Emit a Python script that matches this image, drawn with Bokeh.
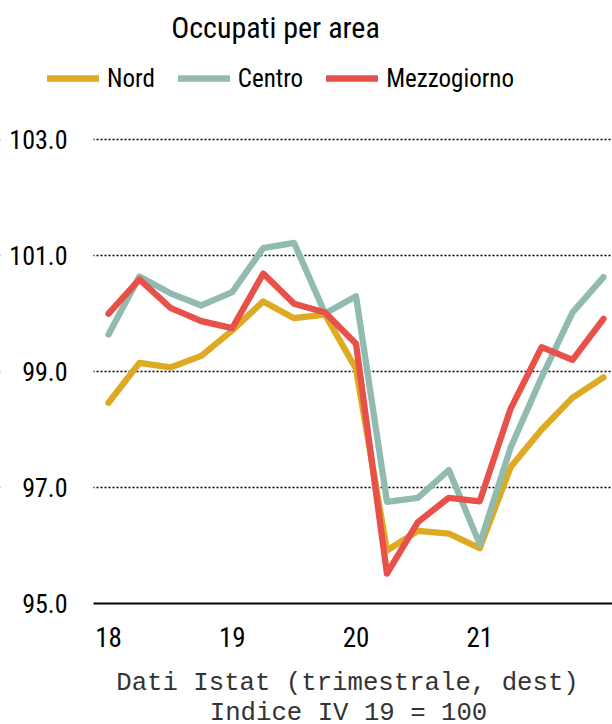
from bokeh.plotting import figure
from bokeh.models import (Range1d, FixedTicker, PrintfTickFormatter, Legend, LegendItem,
                          Label, ColumnDataSource, BoxAnnotation)
from bokeh.embed import file_html
from bokeh.resources import INLINE

quarters = ["2018Q1", "2018Q2", "2018Q3", "2018Q4", "2019Q1", "2019Q2", "2019Q3", "2019Q4",
            "2020Q1", "2020Q2", "2020Q3", "2020Q4", "2021Q1", "2021Q2", "2021Q3", "2021Q4",
            "2022Q1"]
nord = [98.46, 99.15, 99.07, 99.27, 99.71, 100.21, 99.92, 99.98, 99.05, 95.91, 96.25, 96.20,
        95.95, 97.35, 98.00, 98.55, 98.90]
centro = [99.64, 100.64, 100.35, 100.14, 100.37, 101.13, 101.22, 100.00, 100.30, 96.75, 96.82,
          97.30, 96.02, 97.69, 98.90, 100.02, 100.63]
mezzogiorno = [100.00, 100.59, 100.10, 99.87, 99.75, 100.69, 100.17, 100.02, 99.48, 95.51, 96.40,
               96.82, 96.76, 98.36, 99.42, 99.20, 99.91]
series_names = ["Nord", "Centro", "Mezzogiorno"]
series_colors = ["#DEAA24", "#91BBB0", "#E8504A"]
year_ticks = [0, 4, 8, 12]
year_labels = ["18", "19", "20", "21"]
y_ticks = [95, 97, 99, 101, 103]
grid_ticks = [97, 99, 101, 103]

FONT = "Roboto Condensed"
MONO = "Liberation Mono"

W, H = 612, 724
X_LEFT = -0.485   # left edge of plotting area (data units)
X_END = 16.291

idx = list(range(len(quarters)))

p = figure(width=W, height=H, output_backend="svg", toolbar_location=None,
           x_range=Range1d(-3.491, X_END), y_range=Range1d(92.906, 105.405),
           min_border=0)
p.outline_line_color = None
p.background_fill_color = "white"

# grid (dotted), limited to the plotting area by a white cover on the left
p.xgrid.grid_line_color = None
p.ygrid.ticker = FixedTicker(ticks=grid_ticks)
p.ygrid.grid_line_color = "black"
p.ygrid.grid_line_width = 1.6
p.ygrid.grid_line_dash = "2 2"
p.add_layout(BoxAnnotation(right=X_LEFT, fill_color="white", fill_alpha=1,
                           line_color=None, level="underlay"))

renderers = []
for name, vals, col in zip(series_names, [nord, centro, mezzogiorno], series_colors):
    src = ColumnDataSource(dict(x=idx, y=vals))
    r = p.line("x", "y", source=src, line_color=col, line_width=6.3,
               line_cap="round", line_join="round")
    renderers.append((name, r))

# x axis at y = 95
xa = p.xaxis[0]
xa.fixed_location = 95
xa.bounds = (X_LEFT, X_END)
xa.ticker = FixedTicker(ticks=year_ticks)
xa.major_label_overrides = {t: l for t, l in zip(year_ticks, year_labels)}
xa.axis_line_color = "black"
xa.axis_line_width = 2
xa.major_tick_line_color = None
xa.minor_tick_line_color = None
xa.major_tick_out = 0
xa.major_label_text_font = FONT
xa.major_label_text_font_size = "27px"
xa.major_label_text_color = "black"
xa.major_label_standoff = 24

ya = p.yaxis[0]
ya.fixed_location = X_LEFT
ya.ticker = FixedTicker(ticks=y_ticks)
ya.formatter = PrintfTickFormatter(format="%.1f")
ya.axis_line_color = None
ya.major_tick_line_color = None
ya.minor_tick_line_color = None
ya.major_tick_out = 0
ya.major_label_standoff = 26
ya.major_label_text_font = FONT
ya.major_label_text_font_size = "26px"
ya.major_label_text_color = "black"

legend = Legend(items=[LegendItem(label=n, renderers=[r]) for n, r in renderers],
                orientation="horizontal", location=(47, 631),
                glyph_width=52, glyph_height=30, label_height=30, label_standoff=8,
                spacing=23, padding=0, margin=0,
                label_text_font=FONT, label_text_font_size="25px", label_text_color="black",
                border_line_color=None, background_fill_alpha=0)
p.add_layout(legend, "center")

title = Label(x=275, y=697, x_units="screen", y_units="screen", text="Occupati per area",
              text_align="center", text_baseline="alphabetic", text_font=FONT,
              text_font_size="30px", text_color="black")
p.add_layout(title)

note1 = Label(x=347, y=41, x_units="screen", y_units="screen",
              text="Dati Istat (trimestrale, dest)", text_align="center",
              text_baseline="alphabetic", text_font=MONO,
              text_font_size="25.7px", text_color="#333333")
note2 = Label(x=348, y=11, x_units="screen", y_units="screen",
              text="Indice IV 19 = 100", text_align="center",
              text_baseline="alphabetic", text_font=MONO,
              text_font_size="25.7px", text_color="#333333")
p.add_layout(note1)
p.add_layout(note2)

open("out.html", "w").write(file_html(p, INLINE))
